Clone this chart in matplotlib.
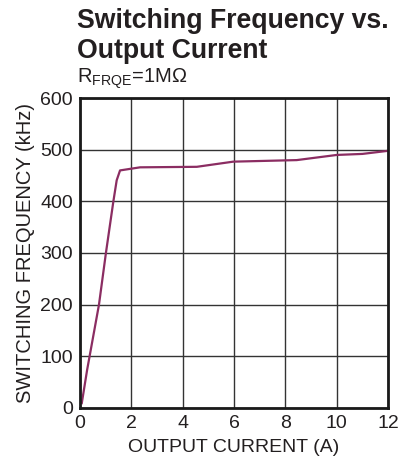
"""
Switching frequency vs. output current (R_FRQE = 1 MOhm).
"""
import matplotlib
matplotlib.use("Agg")
import matplotlib.pyplot as plt

plt.rcParams['font.family'] = ['Liberation Sans', 'DejaVu Sans']

# data
current = [0.07, 0.28, 0.74, 1.01, 1.30, 1.43, 1.56, 2.34, 4.55, 5.97, 8.44, 10.0, 11.0, 12.0]
freq    = [9,    74,   200,  300,  400,  441,  460,  466,  467,  477,  480,  490,  492,  498]

x_ticks = [0, 2, 4, 6, 8, 10, 12]
y_ticks = [0, 100, 200, 300, 400, 500, 600]

fig = plt.figure(figsize=(4.06, 4.72), dpi=100)
ax = fig.add_axes([0.197, 0.136, 0.759, 0.656])

ax.plot(current, freq, color='#8B2D62', lw=1.6)

ax.set_xlim(0, 12); ax.set_ylim(0, 600)
ax.set_xticks(x_ticks); ax.set_yticks(y_ticks)
ax.grid(True, color='#333333', lw=1.0)
for s in ax.spines.values():
    s.set_linewidth(2.0); s.set_color('#1a1a1a')
ax.tick_params(length=0, pad=5, labelsize=14, labelcolor='#231f20')
ax.set_xlabel("OUTPUT CURRENT (A)", fontsize=14, color='#231f20', labelpad=5)
ax.set_ylabel("SWITCHING FREQUENCY (kHz)", fontsize=14.5, color='#231f20', labelpad=4)

fig.text(0.19, 0.940, "Switching Frequency vs.", fontsize=19.2,
         fontweight='bold', color='#231f20', ha='left', va='baseline')
fig.text(0.19, 0.8765, "Output Current", fontsize=19.2,
         fontweight='bold', color='#231f20', ha='left', va='baseline')
fig.text(0.19, 0.824, r"R$_{\mathregular{FRQE}}$=1M$\mathregular{\Omega}$", fontsize=14.5,
         color='#231f20', ha='left', va='baseline')

fig.savefig("out.png", dpi=100)
